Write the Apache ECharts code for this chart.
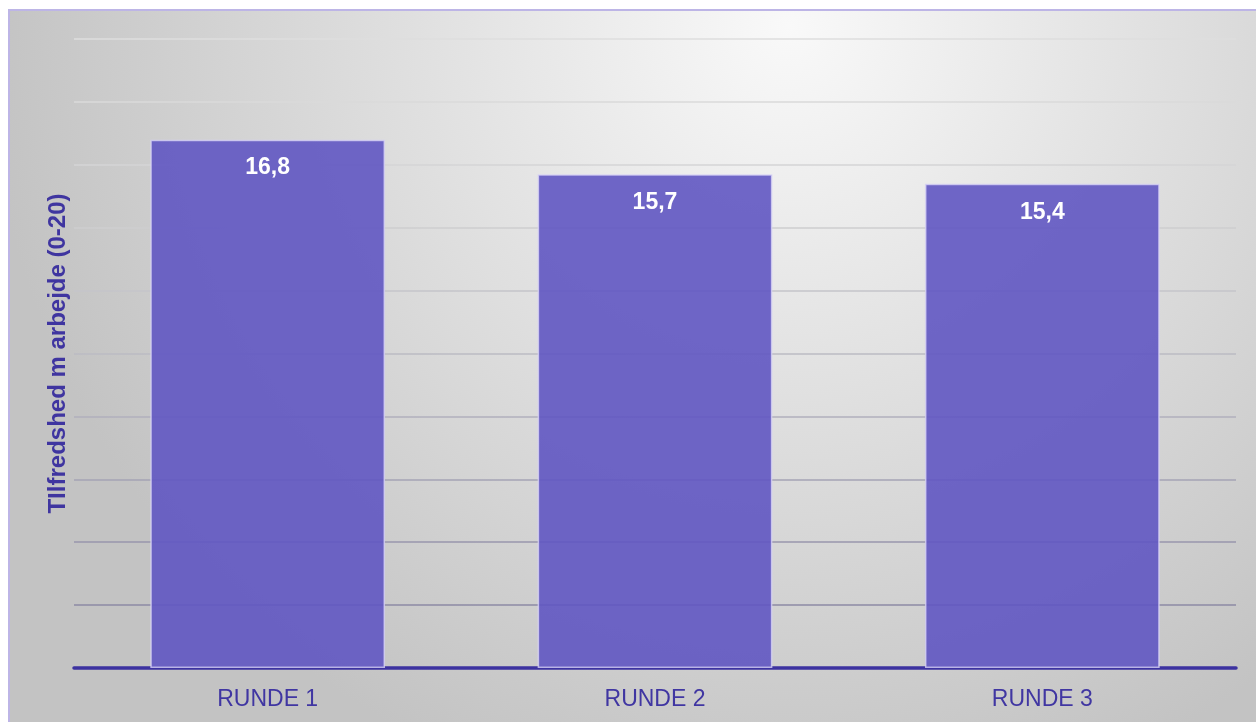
<!DOCTYPE html>
<html>
<head>
<meta charset="utf-8">
<script src="https://cdn.jsdelivr.net/npm/echarts@6/dist/echarts.min.js"></script>
<style>
html,body{margin:0;padding:0;background:#fff;overflow:hidden;width:1256px;height:722px;}
#wrap{position:absolute;left:8px;top:9px;width:1258px;height:720px;border-left:2px solid #bdb5e6;border-top:2px solid #bdb5e6;box-sizing:border-box;}
#chart{position:absolute;left:0;top:0;width:1256px;height:718px;}
</style>
</head>
<body>
<div id="wrap"><div id="chart"></div></div>
<script>
const categories = ['RUNDE 1', 'RUNDE 2', 'RUNDE 3'];
const values = [16.8, 15.7, 15.4];
const yAxisTitle = 'TIlfredshed m arbejde (0-20)';
const yMin = 0, yMax = 20, yStep = 2;

const chart = echarts.init(document.getElementById('chart'), null, {renderer: 'canvas'});
chart.setOption({
  backgroundColor: {
    type: 'radial', x: 0.62, y: 0.02, r: 1.12,
    colorStops: [{offset: 0, color: '#f9f9f9'}, {offset: 1, color: '#c3c3c3'}]
  },
  grid: {left: 64, right: 30, top: 28, bottom: 61, containLabel: false},
  xAxis: {
    type: 'category',
    data: categories,
    axisLine: {lineStyle: {color: '#3c32a0', width: 3.5}},
    axisTick: {show: false},
    axisLabel: {color: '#4036a2', fontSize: 23, fontFamily: 'Liberation Sans, Arial, sans-serif', margin: 20}
  },
  yAxis: {
    type: 'value',
    min: yMin, max: yMax, interval: yStep,
    name: yAxisTitle,
    nameLocation: 'middle',
    nameGap: 4,
    nameTextStyle: {color: '#3f35a0', fontSize: 24, fontWeight: 'bold', fontFamily: 'Liberation Sans, Arial, sans-serif'},
    axisLine: {show: false},
    axisTick: {show: false},
    axisLabel: {show: false},
    splitLine: {lineStyle: {width: 1.5, color: ['#3f35a0', '#8c8aa4', '#9896ac', '#a4a3b4', '#b0afbc', '#bbbbc3', '#c5c5ca', '#cececf', '#d5d5d6', '#dadada', '#dedede']}}
  },
  series: [{
    type: 'bar',
    data: values,
    barWidth: '60.6%',
    itemStyle: {color: 'rgba(96,86,194,0.9)', borderColor: 'rgba(215,210,245,0.8)', borderWidth: 1.5},
    label: {
      show: true, position: 'insideTop', distance: 17,
      color: '#ffffff', fontSize: 23, fontWeight: 'bold',
      fontFamily: 'Liberation Sans, Arial, sans-serif',
      formatter: p => String(p.value).replace('.', ',')
    }
  }]
});
</script>
</body>
</html>
